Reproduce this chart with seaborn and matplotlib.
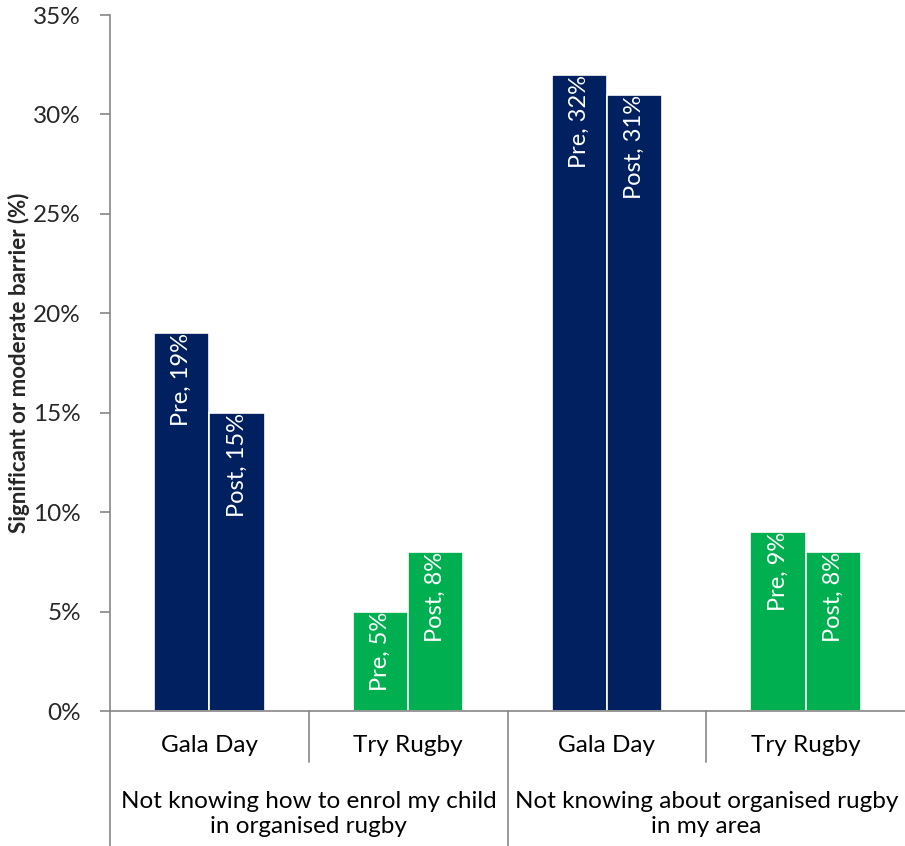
import matplotlib
matplotlib.use("Agg")
import matplotlib.pyplot as plt
import matplotlib.transforms as mtransforms
import seaborn as sns
import pandas as pd

sns.set_theme(style="white")
plt.rcParams['font.family'] = ['Lato', 'DejaVu Sans']

groups = ["Not knowing how to enrol my child\nin organised rugby",
          "Not knowing about organised rugby\nin my area"]
programs = ["Gala Day", "Try Rugby"]
phases = ["Pre", "Post"]
pre_values = [19, 5, 32, 9]
post_values = [15, 8, 31, 8]
slot_programs = ["Gala Day", "Try Rugby", "Gala Day", "Try Rugby"]
slot_ids = ["s1", "s2", "s3", "s4"]

navy = "#002060"
green = "#00B050"
prog_colors = {"Gala Day": navy, "Try Rugby": green}
grey = "#868686"

rows = []
for sid, prog, pv, qv in zip(slot_ids, slot_programs, pre_values, post_values):
    rows.append({"slot": sid, "program": prog, "phase": "Pre", "value": pv})
    rows.append({"slot": sid, "program": prog, "phase": "Post", "value": qv})
df = pd.DataFrame(rows)

fig = plt.figure(figsize=(9.05, 8.46), dpi=100)
ax = fig.add_axes([110/905, 1-711/846, 1-110/905, (711-15)/846])

sns.barplot(data=df, x="slot", y="value", hue="phase", order=slot_ids,
            hue_order=phases, width=0.555, ax=ax, legend=False,
            edgecolor="white", linewidth=1.2, saturation=1)

for ci, container in enumerate(ax.containers):
    phase = phases[ci]
    for si, patch in enumerate(container.patches):
        patch.set_facecolor(prog_colors[slot_programs[si]])
        val = patch.get_height()
        xc = patch.get_x() + patch.get_width() / 2
        off = mtransforms.offset_copy(ax.transData, fig=fig, x=0, y=0, units='points')
        ax.text(xc, val, f"{phase}, {int(val)}%", rotation=90, ha="center",
                va="top", color="white", fontsize=17, transform=off)

ax.set_xlim(-0.5, 3.5)
ax.set_ylim(0, 35)
ax.set_yticks(range(0, 36, 5))
ax.set_yticklabels([f"{v}%" for v in range(0, 36, 5)], fontsize=17.5)
ax.tick_params(axis="y", left=True, length=7, width=1.2, color=grey, pad=14)
ax.set_xticks([])
ax.set_xlabel("")
ax.set_ylabel("Significant or moderate barrier (%)", fontsize=16,
              fontweight="bold")
ax.yaxis.set_label_coords(-0.101, 0.5)

for s in ["top", "right"]:
    ax.spines[s].set_visible(False)
for s in ["left", "bottom"]:
    ax.spines[s].set_color(grey)
    ax.spines[s].set_linewidth(1.2)

trans = mtransforms.blended_transform_factory(ax.transData, fig.transFigure)
for i, prog in enumerate(slot_programs):
    ax.text(i, 1-745/846, prog, transform=trans, ha="center", va="center",
            fontsize=17.5, color="black")
for gi, g in enumerate(groups):
    ax.text(gi*2 + 0.5, 1-814/846, g, transform=trans, ha="center", va="center",
            fontsize=17.5, color="black", linespacing=1.25)

y_axis = 1-711/846
y_short = 1-762/846
for xb in [0.5, 2.5]:
    ax.plot([xb, xb], [y_axis, y_short], transform=trans, color=grey,
            lw=1.2, clip_on=False)
for xb in [-0.5, 1.5]:
    ax.plot([xb, xb], [y_axis, 0], transform=trans, color=grey,
            lw=1.2, clip_on=False)

fig.savefig("out.png", dpi=100)
